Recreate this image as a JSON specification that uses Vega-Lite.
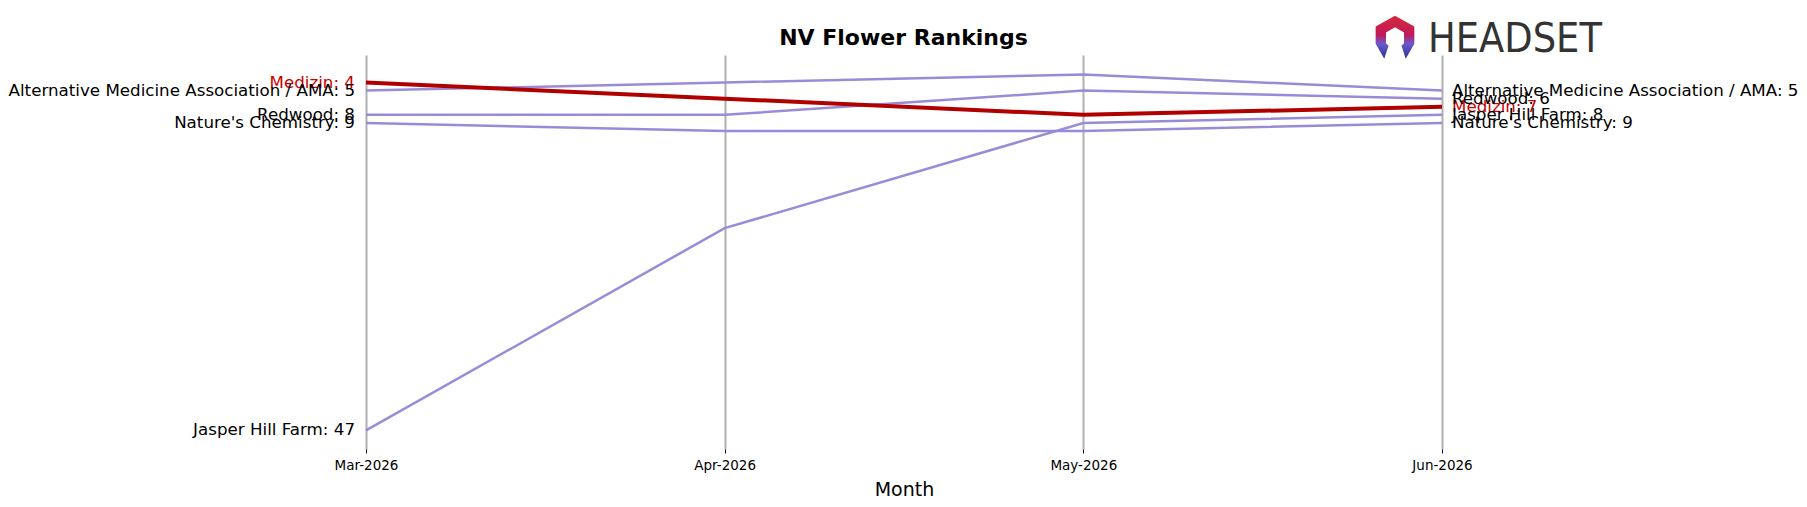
{
  "$schema": "https://vega.github.io/schema/vega-lite/v6.json",
  "width": 1807,
  "height": 394,
  "autosize": "none",
  "padding": {"left": 0, "top": 55, "right": 0, "bottom": 58},
  "background": "white",
  "title": {"text": "NV Flower Rankings", "font": "DejaVu Sans", "fontSize": 22, "fontWeight": "bold", "color": "black", "anchor": "middle", "offset": 7, "dy": 41},
  "config": {"view": {"stroke": null}},
  "data": {"values": [
    {"brand": "Medizin", "month": "Mar-2026", "rank": 4},
    {"brand": "Medizin", "month": "Apr-2026", "rank": 6},
    {"brand": "Medizin", "month": "May-2026", "rank": 8},
    {"brand": "Medizin", "month": "Jun-2026", "rank": 7},
    {"brand": "Alternative Medicine Association / AMA", "month": "Mar-2026", "rank": 5},
    {"brand": "Alternative Medicine Association / AMA", "month": "Apr-2026", "rank": 4},
    {"brand": "Alternative Medicine Association / AMA", "month": "May-2026", "rank": 3},
    {"brand": "Alternative Medicine Association / AMA", "month": "Jun-2026", "rank": 5},
    {"brand": "Redwood", "month": "Mar-2026", "rank": 8},
    {"brand": "Redwood", "month": "Apr-2026", "rank": 8},
    {"brand": "Redwood", "month": "May-2026", "rank": 5},
    {"brand": "Redwood", "month": "Jun-2026", "rank": 6},
    {"brand": "Nature's Chemistry", "month": "Mar-2026", "rank": 9},
    {"brand": "Nature's Chemistry", "month": "Apr-2026", "rank": 10},
    {"brand": "Nature's Chemistry", "month": "May-2026", "rank": 10},
    {"brand": "Nature's Chemistry", "month": "Jun-2026", "rank": 9},
    {"brand": "Jasper Hill Farm", "month": "Mar-2026", "rank": 47},
    {"brand": "Jasper Hill Farm", "month": "Apr-2026", "rank": 22},
    {"brand": "Jasper Hill Farm", "month": "May-2026", "rank": 9},
    {"brand": "Jasper Hill Farm", "month": "Jun-2026", "rank": 8}
  ]},
  "encoding": {
    "x": {
      "field": "month", "type": "ordinal",
      "sort": ["Mar-2026", "Apr-2026", "May-2026", "Jun-2026"],
      "scale": {"type": "point", "padding": 0, "round": false, "range": [366, 1442]},
      "axis": {
        "title": "Month", "titleFont": "DejaVu Sans", "titleFontSize": 19, "titleFontWeight": "normal", "titleColor": "black", "titlePadding": 9,
        "labelFont": "DejaVu Sans", "labelFontSize": 13.5, "labelColor": "black", "labelAngle": 0, "labelPadding": 5,
        "domain": false, "ticks": true, "tickColor": "black", "tickSize": 4, "tickWidth": 1,
        "grid": true, "gridColor": "#b0b0b0", "gridWidth": 2
      }
    },
    "y": {
      "field": "rank", "type": "quantitative",
      "scale": {"domain": [0.6, 49.3], "reverse": true, "zero": false, "nice": false},
      "axis": null
    }
  },
  "layer": [
    {
      "transform": [{"filter": "datum.brand !== 'Medizin'"}],
      "mark": {"type": "line", "color": "#9a8bd9", "strokeWidth": 2.5},
      "encoding": {"detail": {"field": "brand"}}
    },
    {
      "transform": [{"filter": "datum.brand === 'Medizin'"}],
      "mark": {"type": "line", "color": "#b00000", "strokeWidth": 4},
      "encoding": {"detail": {"field": "brand"}}
    },
    {
      "transform": [{"filter": "datum.month === 'Mar-2026'"}, {"calculate": "datum.brand + ': ' + datum.rank", "as": "label"}],
      "mark": {"type": "text", "align": "right", "baseline": "middle", "dx": -11, "font": "DejaVu Sans", "fontSize": 16.7},
      "encoding": {
        "text": {"field": "label"},
        "color": {"condition": {"test": "datum.brand === 'Medizin'", "value": "#cc0000"}, "value": "black"}
      }
    },
    {
      "transform": [{"filter": "datum.month === 'Jun-2026'"}, {"calculate": "datum.brand + ': ' + datum.rank", "as": "label"}],
      "mark": {"type": "text", "align": "left", "baseline": "middle", "dx": 10, "font": "DejaVu Sans", "fontSize": 16.7},
      "encoding": {
        "text": {"field": "label"},
        "color": {"condition": {"test": "datum.brand === 'Medizin'", "value": "#cc0000"}, "value": "black"}
      }
    },
    {
      "transform": [{"filter": "datum.month === 'Jun-2026' && datum.brand === 'Medizin'"}],
      "mark": {"type": "text", "align": "left", "baseline": "middle", "dx": -14, "font": "DejaVu Sans Condensed", "fontSize": 41, "color": "#333333"},
      "encoding": {
        "y": {"datum": -1.23},
        "text": {"value": "HEADSET"}
      }
    },
    {
      "transform": [{"filter": "datum.month === 'Jun-2026' && datum.brand === 'Medizin'"}],
      "mark": {
        "type": "point", "filled": true, "opacity": 1, "size": 1849,
        "shape": "M0,-1 L0.9,-0.5 L0.9,0.3 L0.5,1 L0.3,0.4 L0.42,0.28 L0.42,-0.22 L0,-0.46 L-0.42,-0.22 L-0.42,0.28 L-0.3,0.4 L-0.5,1 L-0.9,0.3 L-0.9,-0.5 Z",
        "color": {"gradient": "linear", "x1": 0, "y1": 0, "x2": 0, "y2": 1, "stops": [{"offset": 0, "color": "#d42a3a"}, {"offset": 0.45, "color": "#c2185b"}, {"offset": 0.65, "color": "#6a5acd"}, {"offset": 1, "color": "#283593"}]}
      },
      "encoding": {
        "y": {"datum": -1.6},
        "xOffset": {"value": -47}
      }
    }
  ]
}
